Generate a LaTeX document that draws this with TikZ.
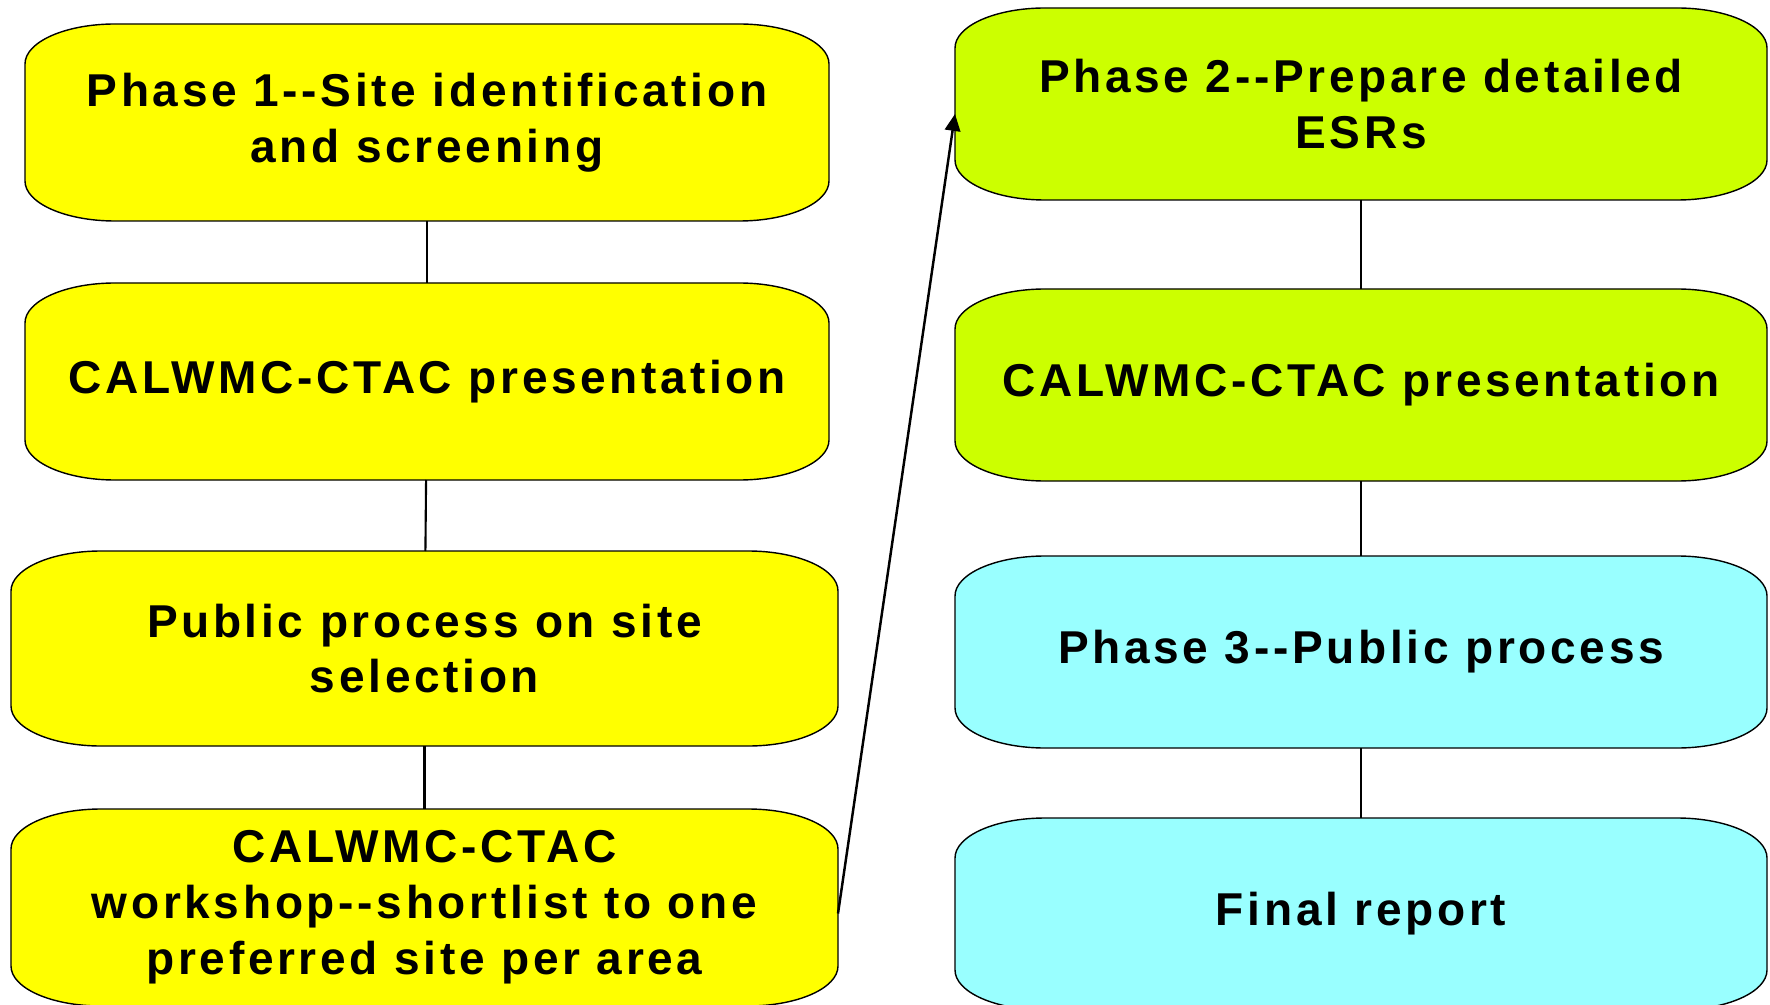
\documentclass[tikz,border=0pt]{standalone}
\usepackage{fontspec}
\usepackage{xcolor}
\usepackage{tikz}
\usetikzlibrary{arrows.meta,backgrounds,positioning}
\tikzset{>={Triangle[length=4.8pt,width=4.4pt]}}

\newfontfamily\boxfont{Liberation Sans}[LetterSpace=8,Ligatures=CommonOff]

\definecolor{phaseone}{RGB}{255,255,0}
\definecolor{phasetwo}{RGB}{204,255,0}
\definecolor{phasethree}{RGB}{153,255,255}

% frame with flat elliptic corners, drawn behind a named node
\newcommand{\roundframe}[2]{%
  \begin{scope}[on background layer]
    \filldraw[frame, fill=#2]
      ([xshift=0.9cm]#1.north west) -- ([xshift=-0.9cm]#1.north east)
      arc[start angle=90, end angle=0, x radius=0.9cm, y radius=0.4cm]
      -- ([yshift=0.4cm]#1.south east)
      arc[start angle=0, end angle=-90, x radius=0.9cm, y radius=0.4cm]
      -- ([xshift=0.9cm]#1.south west)
      arc[start angle=270, end angle=180, x radius=0.9cm, y radius=0.4cm]
      -- ([yshift=-0.4cm]#1.north west)
      arc[start angle=180, end angle=90, x radius=0.9cm, y radius=0.4cm]
      -- cycle;
  \end{scope}}

\begin{document}
\begin{tikzpicture}[scale=1.0,
                    stepbox/.style={inner sep=0pt, outer sep=0pt, align=center,
                                    font=\boxfont\bfseries\fontsize{13.1}{15.9}\selectfont},
                    frame/.style={draw=black, line width=0.4pt},
                    link/.style={black, line width=0.6pt},
                    jump/.style={black, line width=0.7pt, ->},
                   ]

\useasboundingbox (0,0) rectangle (17.70,10.04);

% left column
\node[stepbox, minimum width=8.04cm, minimum height=1.97cm] (ph1) at (4.27,8.815)
  {Phase 1--Site identification\\and screening};
\node[stepbox, minimum width=8.04cm, minimum height=1.97cm] (pres1) at (4.27,6.225)
  {CALWMC-CTAC presentation};
\node[stepbox, minimum width=8.27cm, minimum height=1.95cm] (pub1) at (4.245,3.555)
  {Public process on site\\selection};
\node[stepbox, minimum width=8.27cm, minimum height=1.97cm] (short) at (4.245,0.965)
  {CALWMC-CTAC\\workshop--shortlist to one\\preferred site per area};

% right column
\node[stepbox, minimum width=8.12cm, minimum height=1.92cm] (ph2) at (13.61,9.00)
  {Phase 2--Prepare detailed\\ESRs};
\node[stepbox, minimum width=8.12cm, minimum height=1.92cm] (pres2) at (13.61,6.19)
  {CALWMC-CTAC presentation};
\node[stepbox, minimum width=8.12cm, minimum height=1.92cm] (ph3) at (13.61,3.52)
  {Phase 3--Public process};
\node[stepbox, minimum width=8.12cm, minimum height=1.92cm] (final) at (13.61,0.90)
  {Final report};

\roundframe{ph1}{phaseone}
\roundframe{pres1}{phaseone}
\roundframe{pub1}{phaseone}
\roundframe{short}{phaseone}
\roundframe{ph2}{phasetwo}
\roundframe{pres2}{phasetwo}
\roundframe{ph3}{phasethree}
\roundframe{final}{phasethree}

\draw[link] (ph1) -- (pres1);
\draw[link] (pres1) -- (pub1);
\draw[link] (pub1) -- (short);
\draw[link] (ph2) -- (pres2);
\draw[link] (pres2) -- (ph3);
\draw[link] (ph3) -- (final);

\draw[jump] ([yshift=-0.06cm]short.east) -- ([yshift=-0.1cm]ph2.west);

\end{tikzpicture}
\end{document}
